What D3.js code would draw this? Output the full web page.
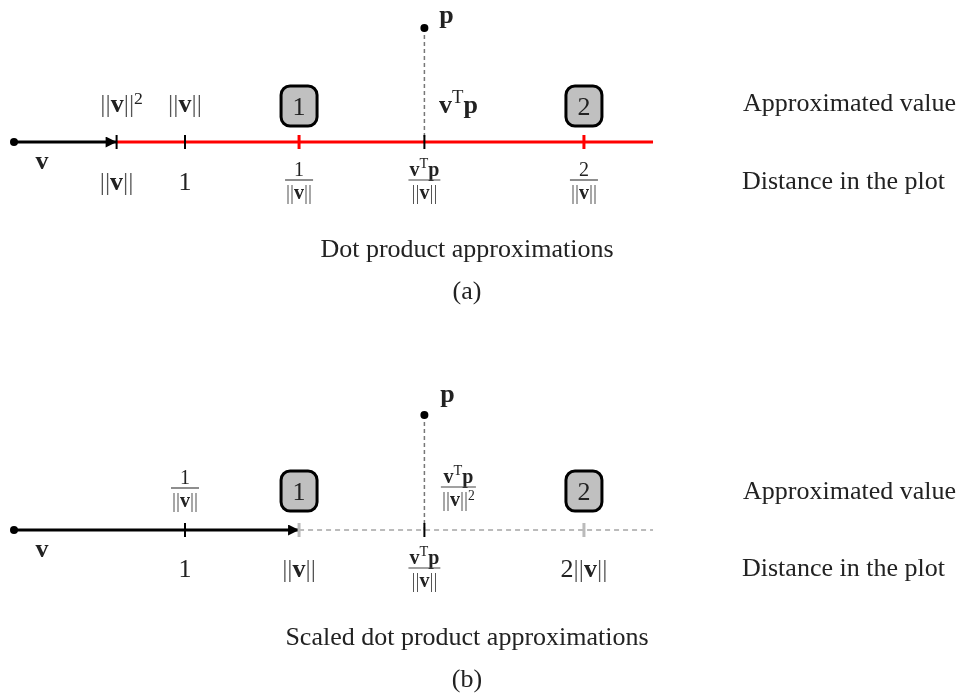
<!DOCTYPE html>
<html>
<head>
<meta charset="utf-8">
<script src="https://cdn.jsdelivr.net/npm/d3@7"></script>
<style>
  html, body { margin: 0; padding: 0; background: #fff; }
  svg { display: block; }
  text { font-family: "Liberation Serif", "Times New Roman", serif; fill: #222; filter: grayscale(1); }
</style>
</head>
<body>
<svg id="chart" width="965" height="695"></svg>
<script>
// ---- data (positions in "plot distance" units, where 1 unit = distance to "1") ----
const normV = 0.6;                 // ||v|| in panel (a)
const panelATicks = [0.6, 1, 1.667, 2.4, 3.333];     // ||v||, 1, 1/||v||, vTp/||v||, 2/||v||
const panelATickKinds = ["black", "black", "red", "black", "red"];
const panelBTicks = [1, 1.667, 2.4, 3.333];          // 1, ||v||, vTp/||v||, 2||v||
const panelBTickKinds = ["black", "grey", "black", "grey"];
const boxPositions = [1.667, 3.333];
const boxLabels = ["1", "2"];
const pPosition = 2.4;
const lineEnd = 3.737;
const captions = ["Dot product approximations", "Scaled dot product approximations"];
const panelLetters = ["(a)", "(b)"];
const rowLabels = ["Approximated value", "Distance in the plot"];

const svg = d3.select("#chart");
const x = d3.scaleLinear().domain([0, 1]).range([14, 185]);

const defs = svg.append("defs");
defs.append("marker").attr("id", "arrow")
  .attr("viewBox", "0 0 10 10").attr("refX", 10).attr("refY", 5)
  .attr("markerWidth", 14).attr("markerHeight", 11).attr("markerUnits", "userSpaceOnUse")
  .attr("orient", "auto")
  .append("path").attr("d", "M0,0 L10,5 L0,10 Z").attr("fill", "#000");

const FS = 26, FSS = 20;

function norm(sel, size, sup) {
  sel.append("tspan").text("||").attr("font-size", size).attr("fill", "#555");
  sel.append("tspan").text("v").attr("font-weight", "bold").attr("font-size", size);
  sel.append("tspan").text("||").attr("font-size", size).attr("fill", "#555");
  if (sup) sel.append("tspan").text(sup).attr("font-size", size * 0.68).attr("dy", -size * 0.32);
}
function vtp(sel, size) {
  sel.append("tspan").text("v").attr("font-weight", "bold").attr("font-size", size);
  sel.append("tspan").text("T").attr("font-size", size * 0.72).attr("dy", -size * 0.38);
  sel.append("tspan").text("p").attr("font-weight", "bold").attr("font-size", size).attr("dy", size * 0.38);
}
function label(g, cx, baseline, builder, size) {
  const t = g.append("text").attr("x", cx).attr("y", baseline).attr("text-anchor", "middle");
  builder(t, size);
  return t;
}
function fraction(g, cx, barY, numBuilder, denBuilder, size) {
  const n = g.append("text").attr("x", cx).attr("y", barY - 4).attr("text-anchor", "middle");
  numBuilder(n, size);
  const d = g.append("text").attr("x", cx).attr("y", barY + size - 1).attr("text-anchor", "middle");
  denBuilder(d, size);
  const w = Math.max(n.node().getBBox().width, d.node().getBBox().width) + 2;
  g.append("line").attr("x1", cx - w / 2).attr("x2", cx + w / 2)
    .attr("y1", barY).attr("y2", barY).attr("stroke", "#444").attr("stroke-width", 1.2);
}
const one = (t, s) => t.append("tspan").text("1").attr("font-size", s);
const two = (t, s) => t.append("tspan").text("2").attr("font-size", s);
const nrm = (t, s) => norm(t, s);
const nrm2 = (t, s) => norm(t, s, "2");

function box(g, cx, cy, txt) {
  g.append("rect").attr("x", cx - 18).attr("y", cy - 20).attr("width", 36).attr("height", 40)
    .attr("rx", 9).attr("fill", "#c0c0c0").attr("stroke", "#000").attr("stroke-width", 3);
  g.append("text").attr("x", cx).attr("y", cy + 9).attr("text-anchor", "middle")
    .attr("font-size", FS).attr("fill", "#333").text(txt);
}
function tick(g, px, y, kind) {
  const col = kind === "red" ? "#ff0000" : kind === "grey" ? "#bbbbbb" : "#000";
  const w = kind === "black" ? 2 : 3;
  g.append("line").attr("x1", px).attr("x2", px).attr("y1", y - 7).attr("y2", y + 7)
    .attr("stroke", col).attr("stroke-width", w);
}

// ================= Panel (a) =================
{
  const g = svg.append("g");
  const ly = 142;
  g.append("line").attr("x1", x(pPosition)).attr("x2", x(pPosition)).attr("y1", 28).attr("y2", ly)
    .attr("stroke", "#777").attr("stroke-width", 1.5).attr("stroke-dasharray", "4,3");
  g.append("circle").attr("cx", x(pPosition)).attr("cy", 28).attr("r", 4).attr("fill", "#000");
  g.append("text").attr("x", x(pPosition) + 22).attr("y", 23).attr("text-anchor", "middle")
    .attr("font-size", FS).attr("font-weight", "bold").text("p");
  g.append("line").attr("x1", x(normV)).attr("x2", x(lineEnd)).attr("y1", ly).attr("y2", ly)
    .attr("stroke", "#ff0000").attr("stroke-width", 3);
  g.append("line").attr("x1", x(0)).attr("x2", x(normV)).attr("y1", ly).attr("y2", ly)
    .attr("stroke", "#000").attr("stroke-width", 3).attr("marker-end", "url(#arrow)");
  g.append("circle").attr("cx", x(0)).attr("cy", ly).attr("r", 4).attr("fill", "#000");
  panelATicks.forEach((t, i) => tick(g, x(t), ly, panelATickKinds[i]));
  g.append("text").attr("x", 42).attr("y", 169).attr("text-anchor", "middle")
    .attr("font-size", FS).attr("font-weight", "bold").text("v");
  boxPositions.forEach((b, i) => box(g, x(b), 106, boxLabels[i]));
  label(g, x(panelATicks[0]) + 5, 112, nrm2, FS);
  label(g, x(panelATicks[1]), 112, nrm, FS);
  label(g, x(pPosition) + 34, 113, vtp, FS);
  label(g, x(panelATicks[0]), 190, nrm, FS);
  label(g, x(panelATicks[1]), 190, one, FS);
  fraction(g, x(panelATicks[2]), 180, one, nrm, FSS);
  fraction(g, x(panelATicks[3]), 180, vtp, nrm, FSS);
  fraction(g, x(panelATicks[4]), 180, two, nrm, FSS);
  g.append("text").attr("x", 743).attr("y", 111).attr("font-size", FS).text(rowLabels[0]);
  g.append("text").attr("x", 742).attr("y", 189).attr("font-size", FS).text(rowLabels[1]);
  g.append("text").attr("x", 467).attr("y", 257).attr("text-anchor", "middle").attr("font-size", FS).text(captions[0]);
  g.append("text").attr("x", 467).attr("y", 299).attr("text-anchor", "middle").attr("font-size", FS).text(panelLetters[0]);
}

// ================= Panel (b) =================
{
  const g = svg.append("g");
  const ly = 530;
  g.append("line").attr("x1", x(pPosition)).attr("x2", x(pPosition)).attr("y1", 415).attr("y2", ly)
    .attr("stroke", "#777").attr("stroke-width", 1.5).attr("stroke-dasharray", "4,3");
  g.append("circle").attr("cx", x(pPosition)).attr("cy", 415).attr("r", 4).attr("fill", "#000");
  g.append("text").attr("x", x(pPosition) + 23).attr("y", 402).attr("text-anchor", "middle")
    .attr("font-size", FS).attr("font-weight", "bold").text("p");
  g.append("line").attr("x1", x(panelBTicks[1])).attr("x2", x(lineEnd)).attr("y1", ly).attr("y2", ly)
    .attr("stroke", "#bbbbbb").attr("stroke-width", 2).attr("stroke-dasharray", "5,4");
  g.append("line").attr("x1", x(0)).attr("x2", x(panelBTicks[1])).attr("y1", ly).attr("y2", ly)
    .attr("stroke", "#000").attr("stroke-width", 3).attr("marker-end", "url(#arrow)");
  g.append("circle").attr("cx", x(0)).attr("cy", ly).attr("r", 4).attr("fill", "#000");
  panelBTicks.forEach((t, i) => tick(g, x(t), ly, panelBTickKinds[i]));
  g.append("text").attr("x", 42).attr("y", 557).attr("text-anchor", "middle")
    .attr("font-size", FS).attr("font-weight", "bold").text("v");
  boxPositions.forEach((b, i) => box(g, x(b), 491, boxLabels[i]));
  fraction(g, x(panelBTicks[0]), 488, one, nrm, FSS);
  fraction(g, x(pPosition) + 34, 487, vtp, nrm2, FSS);
  label(g, x(panelBTicks[0]), 577, one, FS);
  label(g, x(panelBTicks[1]), 577, nrm, FS);
  fraction(g, x(panelBTicks[2]), 568, vtp, nrm, FSS);
  label(g, x(panelBTicks[3]), 577, (t, s) => { t.append("tspan").text("2").attr("font-size", s); norm(t, s); }, FS);
  g.append("text").attr("x", 743).attr("y", 499).attr("font-size", FS).text(rowLabels[0]);
  g.append("text").attr("x", 742).attr("y", 576).attr("font-size", FS).text(rowLabels[1]);
  g.append("text").attr("x", 467).attr("y", 645).attr("text-anchor", "middle").attr("font-size", FS).text(captions[1]);
  g.append("text").attr("x", 467).attr("y", 687).attr("text-anchor", "middle").attr("font-size", FS).text(panelLetters[1]);
}
</script>
</body>
</html>
